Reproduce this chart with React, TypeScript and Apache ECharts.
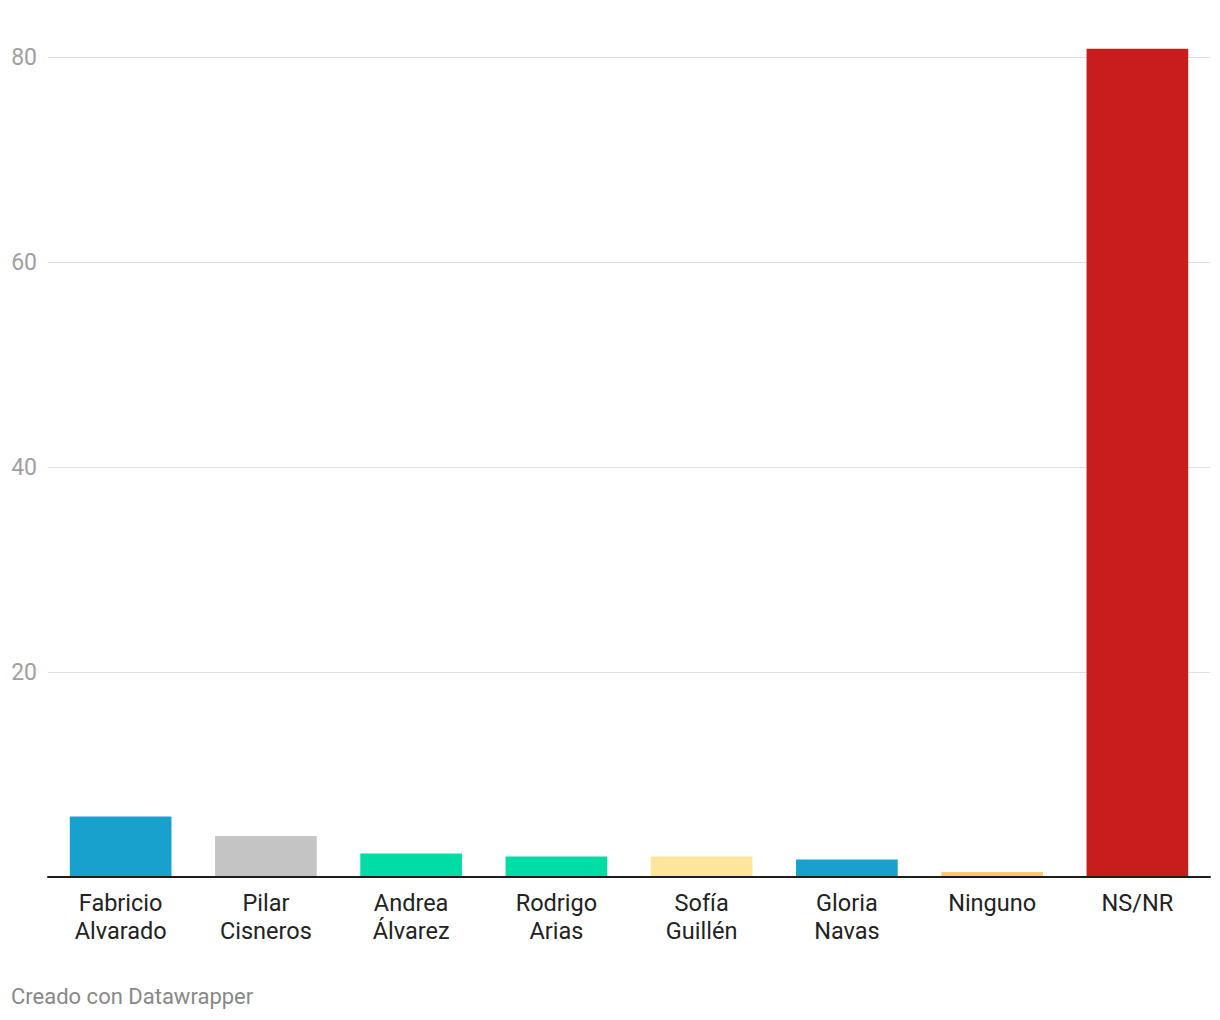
import React, { useEffect, useRef } from "react";
import * as echarts from "echarts";

const categories = [
  "Fabricio\nAlvarado",
  "Pilar\nCisneros",
  "Andrea\nÁlvarez",
  "Rodrigo\nArias",
  "Sofía\nGuillén",
  "Gloria\nNavas",
  "Ninguno",
  "NS/NR",
];
const values = [5.9, 4.0, 2.3, 2.0, 2.0, 1.7, 0.5, 80.8];
const barColors = [
  "#18a1cd",
  "#c4c4c4",
  "#00dca6",
  "#00dca6",
  "#ffe59c",
  "#18a1cd",
  "#ffca76",
  "#c71e1d",
];
const yTicks = [0, 20, 40, 60, 80];
const footer = "Creado con Datawrapper";

export default function App() {
  const ref = useRef<HTMLDivElement>(null);
  useEffect(() => {
    if (!ref.current) return;
    const chart = echarts.init(ref.current, undefined, { renderer: "svg" });
    chart.setOption({
      animation: false,
      backgroundColor: "#ffffff",
      textStyle: { fontFamily: "Roboto" },
      grid: { left: 48, right: 10, top: 57, bottom: 143, containLabel: false },
      xAxis: {
        type: "category",
        data: categories,
        axisLine: { show: true, lineStyle: { color: "#1d1d1d", width: 2 } },
        axisTick: { show: false },
        axisLabel: {
          interval: 0,
          color: "#222222",
          fontSize: 23.5,
          lineHeight: 28,
          margin: 12,
          fontFamily: "Roboto",
        },
        z: 10,
      },
      yAxis: {
        type: "value",
        min: yTicks[0],
        max: yTicks[yTicks.length - 1],
        interval: 20,
        axisLine: { show: false },
        axisTick: { show: false },
        axisLabel: {
          color: "#a0a0a0",
          fontSize: 23,
          margin: 11,
          fontFamily: "Roboto",
          formatter: (v: number) => (v === 0 ? "" : String(v)),
        },
        splitLine: { show: true, lineStyle: { color: "#e0e0e0", width: 1 } },
      },
      series: [
        {
          type: "bar",
          clip: false,
          barCategoryGap: "30%",
          data: values.map((v, i) => ({ value: v, itemStyle: { color: barColors[i] } })),
        },
      ],
      graphic: [
        {
          type: "text",
          left: 11,
          top: 985,
          style: {
            text: footer,
            fill: "#888888",
            fontSize: 22,
            fontFamily: "Roboto",
          },
        },
      ],
    });
    return () => chart.dispose();
  }, []);
  return (
    <div
      ref={ref}
      style={{ position: "fixed", left: 0, top: 0, width: 1220, height: 1020 }}
    />
  );
}
